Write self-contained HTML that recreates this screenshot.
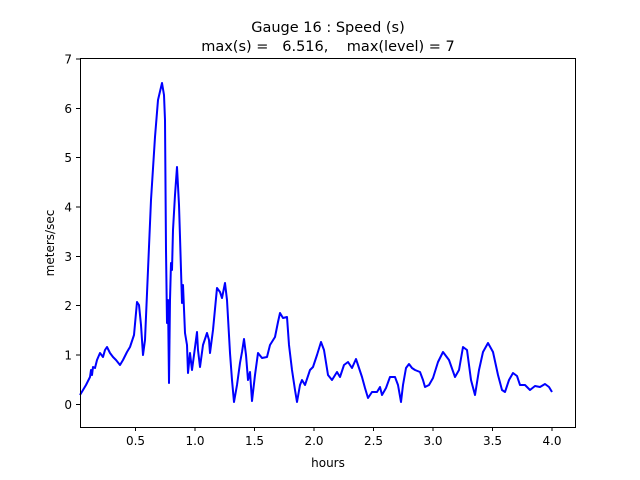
<!DOCTYPE html><html><head><style>body{margin:0;background:#fff}svg{display:block}text{font-family:"DejaVu Sans","Liberation Sans",sans-serif;fill:#000}</style></head><body>
<svg width="640" height="480" viewBox="0 0 640 480">
<rect width="640" height="480" fill="#fff"/>
<text x="328" y="32" font-size="14.5" text-anchor="middle">Gauge 16 : Speed (s)</text>
<text x="328" y="51" font-size="14.5" text-anchor="middle" xml:space="preserve">max(s) =   6.516,    max(level) = 7</text>
<polyline fill="none" stroke="#0000ff" stroke-width="2" stroke-linejoin="round" points="80,395 86,385 90,377 91,370 92,375 93,367 95,368 97,360 100,353 103,357 105,350 107,347 110,353 113,357 116,360 120,365 123,360 127,352 130,347 134,335 137,302 139,305 141,325 143,355 145,340 148,270 151,200 155,137 158,100 162,83 164,95 165,120 166,250 167,323 168,300 169,383 170,300 171,263 172,270 173,230 175,195 177,167 179,205 180,237 181,270 182,303 183,285 185,333 187,345 188,373 190,353 192,370 194,355 197,332 198,350 200,367 203,345 207,333 209,340 210,353 213,330 217,288 220,292 222,298 225,283 227,300 230,353 232,380 234,402 237,385 240,363 242,352 244,339 246,355 248,380 250,372 252,401 255,375 258,353 262,358 267,357 270,345 275,337 278,322 280,313 283,318 287,317 289,345 292,370 295,390 297,402 300,385 302,380 305,385 310,370 313,367 317,355 321,342 324,350 328,375 332,380 337,372 340,377 344,365 348,362 352,368 356,359 359,368 362,377 365,388 368,398 372,392 377,392 380,387 382,395 386,388 390,377 395,377 398,385 401,402 403,385 406,368 409,364 412,368 415,370 420,372 423,380 425,387 429,385 433,378 438,362 443,352 449,360 455,377 459,370 463,347 467,350 471,380 475,395 479,370 483,352 488,343 493,352 498,375 502,390 505,392 509,380 513,373 517,376 520,385 525,385 530,390 535,386 540,387 545,384 549,387 552,392"/>
<rect x="80.5" y="58.5" width="495" height="369" fill="none" stroke="#000" stroke-width="1"/>
<g stroke="#000" stroke-width="1">
<line x1="135.5" y1="428" x2="135.5" y2="431"/><line x1="195" y1="428" x2="195" y2="431"/><line x1="254.5" y1="428" x2="254.5" y2="431"/><line x1="314" y1="428" x2="314" y2="431"/><line x1="373.5" y1="428" x2="373.5" y2="431"/><line x1="433" y1="428" x2="433" y2="431"/><line x1="492.5" y1="428" x2="492.5" y2="431"/><line x1="552" y1="428" x2="552" y2="431"/>
<line x1="76" y1="404.5" x2="80" y2="404.5"/><line x1="76" y1="355" x2="80" y2="355"/><line x1="76" y1="305.5" x2="80" y2="305.5"/><line x1="76" y1="256.5" x2="80" y2="256.5"/><line x1="76" y1="207" x2="80" y2="207"/><line x1="76" y1="157.5" x2="80" y2="157.5"/><line x1="76" y1="108.5" x2="80" y2="108.5"/><line x1="76" y1="59" x2="80" y2="59"/>
</g>
<g font-size="12" text-anchor="middle">
<text x="135.5" y="445">0.5</text><text x="195" y="445">1.0</text><text x="254.5" y="445">1.5</text><text x="314" y="445">2.0</text><text x="373.5" y="445">2.5</text><text x="433" y="445">3.0</text><text x="492.5" y="445">3.5</text><text x="552" y="445">4.0</text>
</g>
<g font-size="12" text-anchor="end">
<text x="72" y="409">0</text><text x="72" y="359.5">1</text><text x="72" y="310">2</text><text x="72" y="261">3</text><text x="72" y="211.5">4</text><text x="72" y="162">5</text><text x="72" y="113">6</text><text x="72" y="63.5">7</text>
</g>
<text x="328" y="467" font-size="12" text-anchor="middle">hours</text>
<text transform="translate(54,243) rotate(-90)" font-size="12" text-anchor="middle">meters/sec</text>
</svg></body></html>
